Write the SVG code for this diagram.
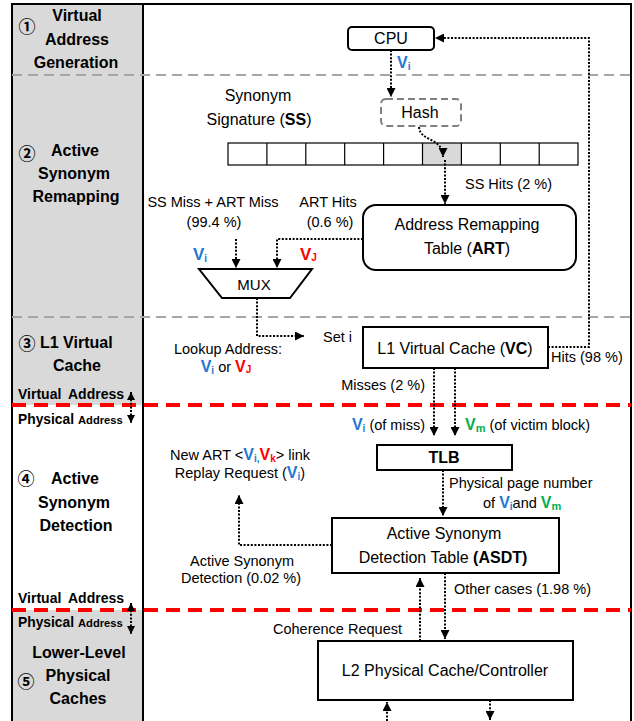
<svg xmlns="http://www.w3.org/2000/svg" width="634" height="721" viewBox="0 0 634 721">
<defs>
<marker id="ah" viewBox="0 0 10 10" refX="10" refY="5" markerUnits="userSpaceOnUse" markerWidth="9" markerHeight="9" orient="auto-start-reverse"><path d="M0,0 L10,5 L0,10 z" fill="#000"/></marker>
<marker id="ahs" viewBox="0 0 10 10" refX="10" refY="5" markerUnits="userSpaceOnUse" markerWidth="8" markerHeight="8" orient="auto-start-reverse"><path d="M0,0 L10,5 L0,10 z" fill="#000"/></marker>
</defs>
<style>
text{font-family:"Liberation Sans",Arial,sans-serif;fill:#000}
.lb{font-weight:bold;font-size:16px;text-anchor:middle}
.circ{font-family:"Noto Sans CJK JP","DejaVu Sans",sans-serif;font-size:17px;font-weight:bold;text-anchor:middle}
.box{fill:#fff;stroke:#000;stroke-width:2}
.t16{font-size:16px}
.t14{font-size:14.5px}
.mid{text-anchor:middle}
.dot{fill:none;stroke:#000;stroke-width:2;stroke-dasharray:2 1.6}
.vb{fill:#1F78D1;font-weight:bold}
.vr{fill:#FF0000;font-weight:bold}
.vg{fill:#00B050;font-weight:bold}
.gdash{stroke:#A6A6A6;stroke-width:2;stroke-dasharray:10 6}
.rdash{stroke:#FF0000;stroke-width:4;stroke-dasharray:14 8}
</style>

<g id="frame">
<rect x="12" y="4" width="131" height="401" fill="#D9D9D9"/>
<rect x="12" y="610" width="131" height="120" fill="#D9D9D9"/>
<rect x="12" y="4" width="619" height="730" fill="none" stroke="#000" stroke-width="2"/>
<line x1="143" y1="4" x2="143" y2="721" stroke="#000" stroke-width="2"/>
<line x1="12" y1="75" x2="631" y2="75" class="gdash"/>
<line x1="12" y1="317" x2="631" y2="317" class="gdash"/>
<line x1="12" y1="405" x2="631" y2="405" class="rdash"/>
<line x1="12" y1="610" x2="631" y2="610" class="rdash"/>
</g>

<g id="stage-labels">
<text class="circ" x="27" y="33">①</text>
<text class="lb" x="77" y="21">Virtual</text>
<text class="lb" x="77" y="45">Address</text>
<text class="lb" x="76" y="68">Generation</text>
<text class="circ" x="27" y="160">②</text>
<text class="lb" x="75" y="156">Active</text>
<text class="lb" x="74" y="179">Synonym</text>
<text class="lb" x="76" y="202">Remapping</text>
<text class="circ" x="27" y="350">③</text>
<text class="lb" x="40" y="348" style="text-anchor:start">L1 Virtual</text>
<text class="lb" x="77" y="371">Cache</text>
<text style="font-weight:bold;font-size:14px" x="18" y="399">Virtual<tspan x="68">Address</tspan></text>
<text style="font-weight:bold;font-size:13.8px" x="18" y="424">Physical<tspan x="78" style="font-size:11.2px">Address</tspan></text>
<text class="circ" x="26" y="485">④</text>
<text class="lb" x="75" y="484">Active</text>
<text class="lb" x="74" y="508">Synonym</text>
<text class="lb" x="76" y="531">Detection</text>
<text style="font-weight:bold;font-size:14px" x="18" y="603">Virtual<tspan x="68">Address</tspan></text>
<text style="font-weight:bold;font-size:13.8px" x="18" y="627">Physical<tspan x="78" style="font-size:11.2px">Address</tspan></text>
<text class="lb" x="79" y="658">Lower-Level</text>
<text class="circ" x="26" y="688">⑤</text>
<text class="lb" x="78" y="681">Physical</text>
<text class="lb" x="78" y="704">Caches</text>
</g>

<g id="cpu">
<rect x="348" y="27" width="86" height="23" rx="4" class="box"/>
<text class="t16 mid" x="391" y="44">CPU</text>
</g>

<g id="hash">
<rect x="381" y="99" width="80" height="27" rx="5" fill="#fff" stroke="#808080" stroke-width="2" stroke-dasharray="7 4"/>
<text class="t16 mid" x="420" y="118">Hash</text>
</g>

<g id="ss">
<text class="t16 mid" x="258" y="101">Synonym</text>
<text class="t16 mid" x="259" y="125">Signature (<tspan font-weight="bold">SS</tspan>)</text>
<rect x="422.8" y="143" width="38.9" height="22" fill="#D9D9D9"/>
<rect x="228" y="143" width="350" height="22" fill="none" stroke="#000" stroke-width="1.2"/>
<path d="M266.9,143V165M305.8,143V165M344.7,143V165M383.6,143V165M422.5,143V165M461.4,143V165M500.3,143V165M539.2,143V165" stroke="#000" stroke-width="1.2"/>
</g>

<g id="art">
<rect x="363" y="205" width="213" height="65" rx="13" class="box"/>
<text class="t16 mid" x="467" y="230">Address Remapping</text>
<text class="t16 mid" x="467" y="254">Table (<tspan font-weight="bold">ART</tspan>)</text>
</g>

<g id="mux">
<path d="M199,269 H312 L290,298 H222 Z" fill="#fff" stroke="#000" stroke-width="2"/>
<text class="t14 mid" x="254" y="290" style="font-size:15px">MUX</text>
</g>

<g id="vc">
<rect x="363" y="327" width="185" height="41" class="box"/>
<text class="t16 mid" x="455" y="354">L1 Virtual Cache (<tspan font-weight="bold">VC</tspan>)</text>
</g>

<g id="tlb">
<rect x="377" y="445" width="135" height="25" class="box"/>
<text class="t16 mid" x="444" y="463" font-weight="bold">TLB</text>
</g>

<g id="asdt">
<rect x="332" y="518" width="227" height="55" class="box"/>
<text class="t16 mid" x="444" y="539">Active Synonym</text>
<text class="t16 mid" x="443" y="563">Detection Table <tspan font-weight="bold">(ASDT)</tspan></text>
</g>

<g id="l2">
<rect x="318" y="641" width="255" height="59" class="box"/>
<text class="t16 mid" x="445" y="676">L2 Physical Cache/Controller</text>
</g>

<g id="connectors">
<path class="dot" d="M391,50 V97" marker-end="url(#ah)"/>
<path class="dot" d="M419,127 C420,142 443,137 443,157" marker-end="url(#ah)"/>
<path class="dot" d="M445,160 V204" marker-end="url(#ah)"/>
<path class="dot" d="M548,347 H589 V38 H435" marker-end="url(#ah)"/>
<path class="dot" d="M363,239 H277 V268" marker-end="url(#ah)"/>
<path class="dot" d="M236,239 V268" marker-end="url(#ah)"/>
<path class="dot" d="M257,298 V336 H304" marker-end="url(#ah)"/>
<path class="dot" d="M434,368 V436" marker-end="url(#ah)"/>
<path class="dot" d="M455,368 V436" marker-end="url(#ah)"/>
<path class="dot" d="M443,470 V516" marker-end="url(#ah)"/>
<path class="dot" d="M332,545 H239 V495" marker-end="url(#ah)"/>
<path class="dot" d="M445,573 V639" marker-end="url(#ah)"/>
<path class="dot" d="M420,641 V578" marker-end="url(#ah)"/>
<path class="dot" d="M387,721 V702" marker-end="url(#ah)"/>
<path class="dot" d="M490,700 V720" marker-end="url(#ah)"/>
<path class="dot" d="M131,392 V423" marker-start="url(#ahs)" marker-end="url(#ahs)"/>
<path class="dot" d="M131,603 V634" marker-start="url(#ahs)" marker-end="url(#ahs)"/>
</g>

<g id="labels">
<text x="397" y="68" style="font-size:16px"><tspan class="vb">V</tspan><tspan class="vb" style="font-size:10px" dy="2">i</tspan></text>
<text class="t14" x="465" y="189">SS Hits (2 %)</text>
<text class="t14 mid" x="213" y="207">SS Miss + ART Miss</text>
<text class="t14 mid" x="214" y="227">(99.4 %)</text>
<text class="t14 mid" x="328" y="207">ART Hits</text>
<text class="t14 mid" x="330" y="227">(0.6 %)</text>
<text x="193" y="260" style="font-size:17px"><tspan class="vb">V</tspan><tspan class="vb" style="font-size:10px" dy="2">i</tspan></text>
<text x="300" y="260" style="font-size:17px"><tspan class="vr">V</tspan><tspan class="vr" style="font-size:10px" dy="1">J</tspan></text>
<text class="t14" x="323" y="342">Set  i</text>
<text class="t14" x="551" y="362">Hits (98 %)</text>
<text class="t14 mid" x="228" y="354">Lookup Address:</text>
<text class="t14 mid" x="226" y="372"><tspan class="vb" style="font-size:16px">V</tspan><tspan class="vb" style="font-size:10px" dy="2">i</tspan><tspan dy="-2"> or </tspan><tspan class="vr" style="font-size:16px">V</tspan><tspan class="vr" style="font-size:10px" dy="1">J</tspan></text>
<text class="t14" x="425" y="390" text-anchor="end">Misses (2 %)</text>
<text class="t14" x="425" y="430" text-anchor="end"><tspan class="vb" style="font-size:16px">V</tspan><tspan class="vb" style="font-size:10px" dy="2">i</tspan><tspan dy="-2"> (of miss)</tspan></text>
<text class="t14" x="465" y="430"><tspan class="vg" style="font-size:16px">V</tspan><tspan class="vg" style="font-size:11px" dy="2">m</tspan><tspan dy="-2"> (of victim block)</tspan></text>
<text class="t14" x="449" y="488">Physical  page number</text>
<text class="t14" x="483" y="508">of <tspan class="vb" style="font-size:16px">V</tspan><tspan class="vb" style="font-size:10px" dy="2">i</tspan><tspan dy="-2">and </tspan><tspan class="vg" style="font-size:16px">V</tspan><tspan class="vg" style="font-size:11px" dy="2">m</tspan></text>
<text class="t14 mid" x="240" y="460">New ART &lt;<tspan class="vb" style="font-size:16px">V</tspan><tspan class="vb" style="font-size:10px" dy="2">i,</tspan><tspan class="vr" style="font-size:16px" dy="-2">V</tspan><tspan class="vr" style="font-size:10px" dy="2">k</tspan><tspan dy="-2">&gt; link</tspan></text>
<text class="t14 mid" x="240" y="478">Replay Request (<tspan class="vb" style="font-size:16px">V</tspan><tspan class="vb" style="font-size:10px" dy="2">i</tspan><tspan dy="-2">)</tspan></text>
<text class="t14 mid" x="242" y="566">Active Synonym</text>
<text class="t14 mid" x="241" y="583">Detection  (0.02 %)</text>
<text class="t14" x="454" y="594">Other cases (1.98 %)</text>
<text class="t14" x="273" y="634">Coherence Request</text>
</g>
</svg>
